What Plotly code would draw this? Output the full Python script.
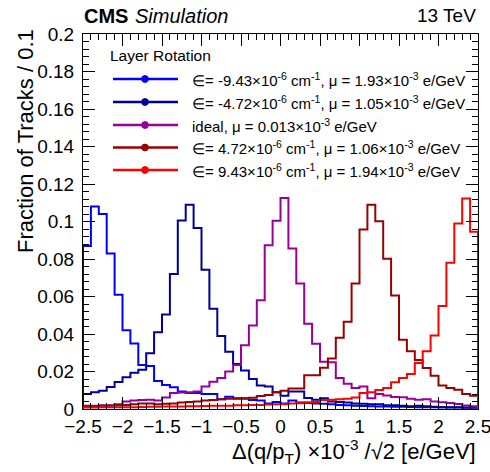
import numpy as np
import plotly.graph_objects as go

# ---------------- data ----------------
x_min, x_max, n_bins = -2.5, 2.5, 50

x_tick_vals = [-2.5, -2.0, -1.5, -1.0, -0.5, 0.0, 0.5, 1.0, 1.5, 2.0, 2.5]
x_tick_text = ["−2.5", "−2", "−1.5", "−1", "−0.5", "0", "0.5", "1", "1.5", "2", "2.5"]
y_tick_vals = [0, 0.02, 0.04, 0.06, 0.08, 0.1, 0.12, 0.14, 0.16, 0.18, 0.2]
y_tick_text = ["0", "0.02", "0.04", "0.06", "0.08", "0.1", "0.12", "0.14", "0.16", "0.18", "0.2"]

legend_header = "Layer Rotation"
series_labels = [
    "∈= -9.43×10<sup>-6</sup> cm<sup>-1</sup>, μ = 1.93×10<sup>-3</sup> e/GeV",
    "∈= -4.72×10<sup>-6</sup> cm<sup>-1</sup>, μ = 1.05×10<sup>-3</sup> e/GeV",
    "ideal, μ = 0.013×10<sup>-3</sup> e/GeV",
    "∈= 4.72×10<sup>-6</sup> cm<sup>-1</sup>, μ = 1.06×10<sup>-3</sup> e/GeV",
    "∈= 9.43×10<sup>-6</sup> cm<sup>-1</sup>, μ = 1.94×10<sup>-3</sup> e/GeV",
]
series_colors = ["#0000ff", "#000099", "#990099", "#990000", "#ff0000"]

rot_m943 = [0.087, 0.108, 0.104, 0.083, 0.061, 0.042, 0.035, 0.0235, 0.023, 0.015,
            0.0128, 0.0116, 0.0093, 0.0086, 0.0086, 0.008, 0.008, 0.0052, 0.0065, 0.0058,
            0.0057, 0.0048, 0.0046, 0.003, 0.0038, 0.003, 0.0045, 0.0035, 0.0032, 0.003,
            0.0028, 0.0026, 0.0022, 0.002, 0.0018, 0.0016, 0.0015, 0.0014, 0.0013, 0.0012,
            0.0012, 0.0011, 0.001, 0.001, 0.0009, 0.0009, 0.0008, 0.0008, 0.0007, 0.0007]
rot_m472 = [0.008, 0.0089, 0.0098, 0.0117, 0.0144, 0.017, 0.0193, 0.021, 0.0298, 0.041,
            0.0504, 0.072, 0.1005, 0.109, 0.0966, 0.0743, 0.0535, 0.039, 0.0305, 0.024,
            0.0205, 0.016, 0.0125, 0.012, 0.009, 0.0071, 0.0093, 0.0093, 0.0059, 0.005,
            0.0058, 0.004, 0.0038, 0.0035, 0.003, 0.0028, 0.0025, 0.0025, 0.002, 0.002,
            0.0018, 0.0015, 0.0018, 0.0015, 0.0012, 0.001, 0.001, 0.001, 0.0008, 0.0008]
ideal = [0.0018, 0.0018, 0.002, 0.002, 0.0025, 0.004, 0.0045, 0.0048, 0.005, 0.0045,
         0.0062, 0.0085, 0.0088, 0.009, 0.0093, 0.012, 0.0145, 0.0165, 0.02, 0.0235,
         0.034, 0.0446, 0.058, 0.0873, 0.1004, 0.1125, 0.0856, 0.067, 0.0455, 0.0348,
         0.0252, 0.025, 0.0165, 0.0135, 0.0112, 0.012, 0.0057, 0.008, 0.0072, 0.0064,
         0.0063, 0.0055, 0.005, 0.0052, 0.004, 0.0036, 0.0032, 0.0027, 0.0019, 0.0015]
rot_p472 = [0.0015, 0.0015, 0.0018, 0.0018, 0.002, 0.0022, 0.0025, 0.003, 0.003, 0.0025,
            0.0028, 0.003, 0.0035, 0.0038, 0.004, 0.0045, 0.0048, 0.0052, 0.0055, 0.0055,
            0.0055, 0.006, 0.007, 0.0075, 0.009, 0.0098, 0.011, 0.011, 0.018, 0.018,
            0.022, 0.027, 0.038, 0.0465, 0.067, 0.0957, 0.109, 0.1002, 0.0802, 0.0606,
            0.0369, 0.0308, 0.0262, 0.0219, 0.0178, 0.0125, 0.0112, 0.0103, 0.008, 0.0071]
rot_p943 = [0.0008, 0.0008, 0.0009, 0.0009, 0.001, 0.001, 0.001, 0.0011, 0.0012, 0.0012,
            0.0013, 0.0013, 0.0014, 0.0015, 0.0015, 0.0016, 0.0017, 0.0018, 0.0018, 0.002,
            0.002, 0.0021, 0.0022, 0.0024, 0.0025, 0.0026, 0.003, 0.0031, 0.0036, 0.0038,
            0.0048, 0.005, 0.0052, 0.0055, 0.0062, 0.0085, 0.009, 0.0102, 0.0112, 0.0143,
            0.0166, 0.0187, 0.0246, 0.0308, 0.0392, 0.0549, 0.078, 0.099, 0.1123, 0.0945]

series_values = [rot_m943, rot_m472, ideal, rot_p472, rot_p943]

# ---------------- figure ----------------
FONT = "Liberation Sans, Arial, Helvetica, sans-serif"
W, H = 490, 472
ML, MR, MT, MB = 83, 12, 34, 63
PW, PH = W - ML - MR, H - MT - MB


def px2x(px):
    return (px - ML) / PW


def px2y(py):
    return (H - MB - py) / PH


edges = np.linspace(x_min, x_max, n_bins + 1)

fig = go.Figure()
for name, vals, col in zip(series_labels, series_values, series_colors):
    xs = [edges[0]] + list(edges[:-1]) + [edges[-1], edges[-1]]
    ys = [0] + list(vals) + [vals[-1], 0]
    fig.add_trace(go.Scatter(x=xs, y=ys, mode="lines", name=name,
                             line=dict(color=col, width=2, shape="hv"),
                             showlegend=False, hoverinfo="skip"))

axis_common = dict(
    showline=True, linecolor="black", linewidth=1, mirror="allticks",
    ticks="inside", ticklen=12, tickwidth=1, tickcolor="black",
    showgrid=False, zeroline=False, ticklabeloverflow="allow", automargin=False,
    tickfont=dict(family=FONT, size=19, color="black"),
)

fig.update_xaxes(range=[x_min, x_max], tickmode="array",
                 tickvals=x_tick_vals, ticktext=x_tick_text,
                 minor=dict(tickmode="linear", tick0=0, dtick=0.1, ticks="inside",
                            ticklen=6, tickcolor="black", showgrid=False),
                 **axis_common)
fig.update_yaxes(range=[0, 0.2], tickmode="array",
                 tickvals=y_tick_vals, ticktext=y_tick_text,
                 minor=dict(tickmode="linear", tick0=0, dtick=0.004, ticks="inside",
                            ticklen=6, tickcolor="black", showgrid=False),
                 ticklabelstandoff=4,
                 **axis_common)

annotations = [
    dict(text="<b>CMS</b>", x=px2x(82), y=px2y(16), xanchor="left", yanchor="middle",
         font=dict(family=FONT, size=20, color="black")),
    dict(text="<i>Simulation</i>", x=px2x(133), y=px2y(16), xanchor="left", yanchor="middle",
         font=dict(family=FONT, size=20, color="black")),
    dict(text="13 TeV", x=px2x(478), y=px2y(16), xanchor="right", yanchor="middle",
         font=dict(family=FONT, size=19, color="black")),
    dict(text="Fraction of Tracks / 0.1", x=px2x(25), y=px2y(27), xanchor="center",
         yanchor="top", textangle=-90,
         font=dict(family=FONT, size=22, color="black")),
    dict(text="Δ(q/p<sub>T</sub>) ×10<sup>-3</sup> /√2 [e/GeV]", x=px2x(478), y=px2y(434),
         xanchor="right", yanchor="top",
         font=dict(family=FONT, size=22, color="black")),
    dict(text=legend_header, x=px2x(108), y=px2y(56), xanchor="left", yanchor="middle",
         font=dict(family=FONT, size=15.5, color="black")),
]

shapes = []
row_y = [79, 102, 125, 147.5, 170]
r = 3.4
for lab, col, py in zip(series_labels, series_colors, row_y):
    shapes.append(dict(type="line", xref="paper", yref="paper",
                       x0=px2x(113), x1=px2x(178), y0=px2y(py), y1=px2y(py),
                       line=dict(color=col, width=2.5)))
    shapes.append(dict(type="circle", xref="paper", yref="paper",
                       x0=px2x(145 - r), x1=px2x(145 + r),
                       y0=px2y(py + r), y1=px2y(py - r),
                       fillcolor=col, line=dict(color=col, width=1)))
    annotations.append(dict(text=lab, x=px2x(190), y=px2y(py), xanchor="left",
                            yanchor="middle",
                            font=dict(family=FONT, size=15, color="black")))

for a in annotations:
    a.update(xref="paper", yref="paper", showarrow=False)

fig.update_layout(
    width=W, height=H,
    margin=dict(l=ML, r=MR, t=MT, b=MB, autoexpand=False),
    paper_bgcolor="white", plot_bgcolor="white",
    font=dict(family=FONT, color="black"),
    annotations=annotations, shapes=shapes,
    showlegend=False,
)

fig.write_html("out.html")
